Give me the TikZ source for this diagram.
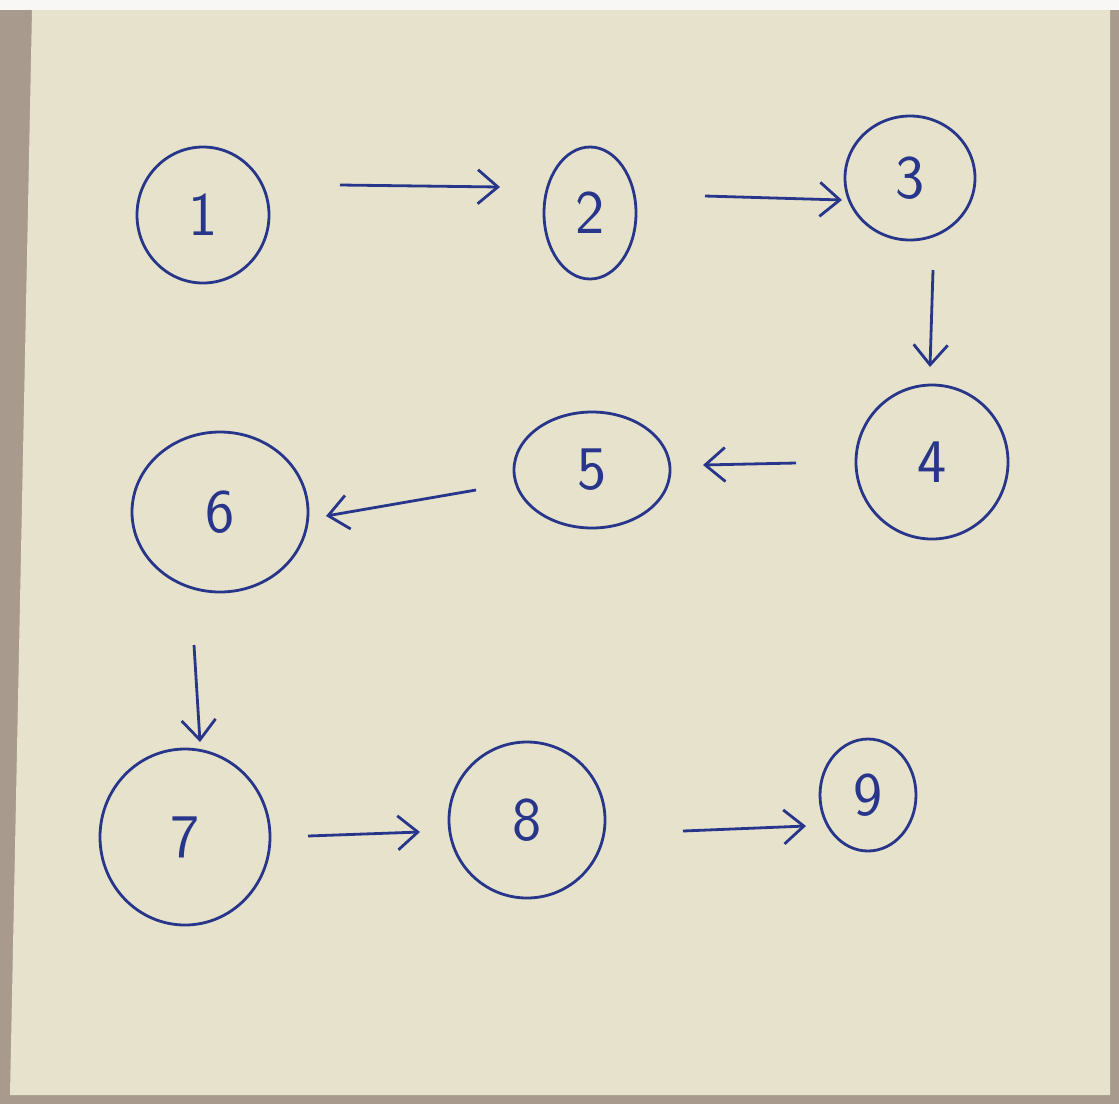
\documentclass[tikz,border=0pt]{standalone}
\usetikzlibrary{shapes.geometric,arrows.meta}
\definecolor{paper}{HTML}{E6E2CB}
\definecolor{desk}{HTML}{A89A8C}
\definecolor{ink}{HTML}{27368A}
\tikzset{
  bubble/.style={draw=ink, line width=2.8pt, ellipse, inner sep=0pt, font=\sffamily\fontsize{62}{64}\selectfont, text=ink},
  link/.style={draw=ink, line width=2.8pt, -{Straight Barb[length=20pt,width=34pt,line width=2.8pt]}}
}
\begin{document}
\begin{tikzpicture}[x=1pt,y=-1pt]
\useasboundingbox (0,0) rectangle (1119,1104);
\fill[desk] (0,0) rectangle (1119,1104);
\fill[white!92!desk] (0,0) rectangle (1119,10);
\fill[paper] (32,10) -- (1110,10) -- (1110,1095) -- (10,1095) -- cycle;

\node[bubble, minimum width=132pt, minimum height=136pt] (n1) at (203,215) {1};
\node[bubble, minimum width=92pt, minimum height=132pt] (n2) at (590,213) {2};
\node[bubble, minimum width=130pt, minimum height=124pt] (n3) at (910,178) {3};
\node[bubble, minimum width=152pt, minimum height=154pt] (n4) at (932,462) {4};
\node[bubble, minimum width=156pt, minimum height=116pt] (n5) at (592,470) {5};
\node[bubble, minimum width=176pt, minimum height=160pt] (n6) at (220,512) {6};
\node[bubble, minimum width=170pt, minimum height=176pt] (n7) at (185,837) {7};
\node[bubble, minimum width=156pt, minimum height=156pt] (n8) at (527,820) {8};
\node[bubble, minimum width=96pt, minimum height=112pt] (n9) at (868,795) {9};

\coordinate (a1s) at (340,185); \coordinate (a1e) at (500,187);
\coordinate (a2s) at (705,196); \coordinate (a2e) at (842,200);
\coordinate (a3s) at (933,270); \coordinate (a3e) at (930,367);
\coordinate (a4s) at (796,463); \coordinate (a4e) at (703,465);
\coordinate (a5s) at (476,490); \coordinate (a5e) at (326,516);
\coordinate (a6s) at (194,645); \coordinate (a6e) at (200,742);
\coordinate (a7s) at (308,836); \coordinate (a7e) at (420,832);
\coordinate (a8s) at (683,831); \coordinate (a8e) at (806,826);

\draw[link] (a1s) -- (a1e);
\draw[link] (a2s) -- (a2e);
\draw[link] (a3s) -- (a3e);
\draw[link] (a4s) -- (a4e);
\draw[link] (a5s) -- (a5e);
\draw[link] (a6s) -- (a6e);
\draw[link] (a7s) -- (a7e);
\draw[link] (a8s) -- (a8e);
\end{tikzpicture}
\end{document}
